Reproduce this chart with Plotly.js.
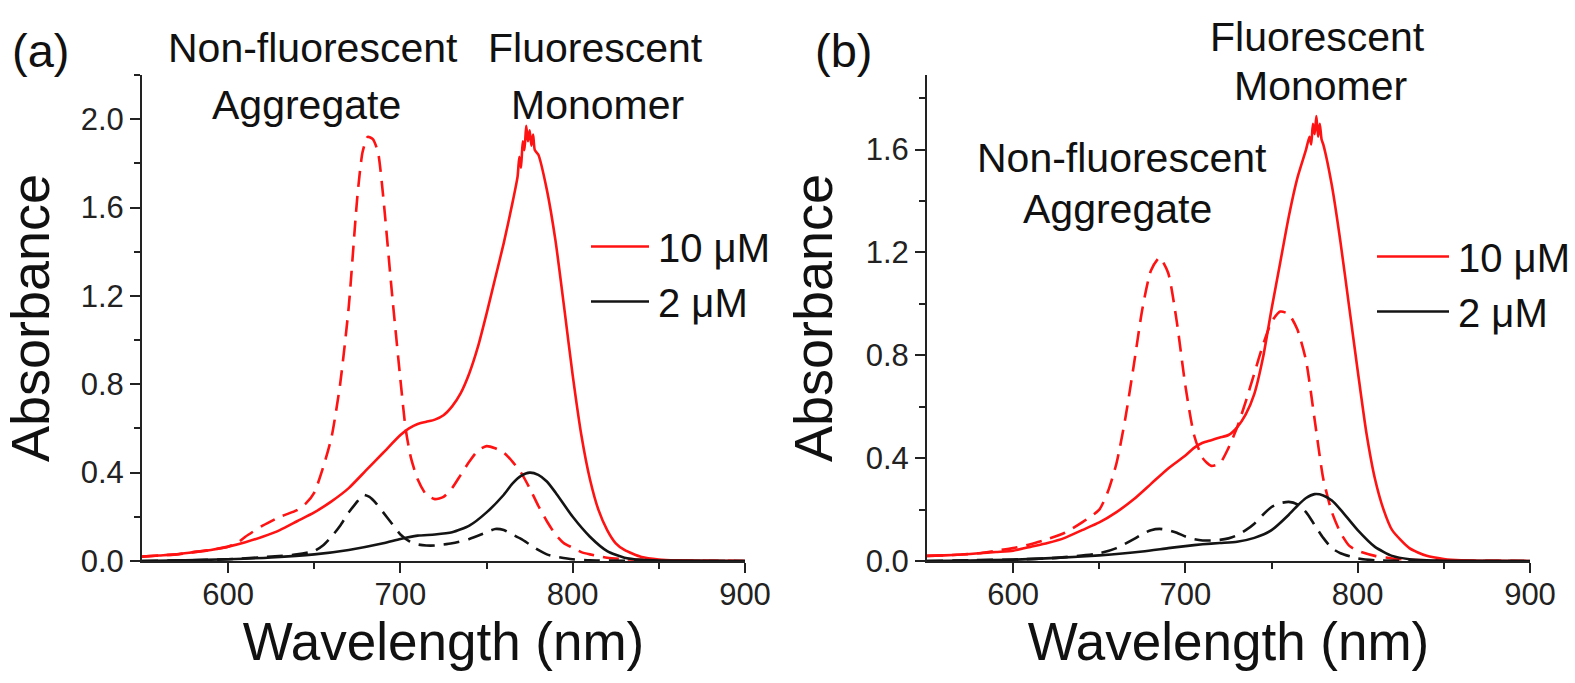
<!DOCTYPE html>
<html>
<head>
<meta charset="utf-8">
<script src="https://cdn.plot.ly/plotly-3.0.1.min.js"></script>
<style>html,body{margin:0;padding:0;background:#fff;}#chart{width:1575px;height:683px;}</style>
</head>
<body>
<div id="chart"></div>
<script>
// ---------- Panel (a) ----------
var aRedSolidX = [550,560,570,580,590,600,610,620,630,640,650,660,670,680,690,700,705,710,715,720,725,730,735,740,745,750,755,760,765,768,769,770,771,772,773,774,775,776,777,778,780,785,790,795,800,805,810,815,820,825,830,840,850,860,880,900];
var aRedSolidY = [0.02,0.025,0.03,0.04,0.05,0.065,0.085,0.11,0.14,0.18,0.22,0.27,0.33,0.41,0.49,0.57,0.6,0.62,0.63,0.64,0.66,0.70,0.76,0.85,0.97,1.12,1.28,1.44,1.62,1.74,1.83,1.78,1.9,1.86,1.97,1.9,1.95,1.88,1.93,1.86,1.84,1.68,1.45,1.15,0.84,0.57,0.37,0.23,0.14,0.08,0.05,0.018,0.007,0.003,0.001,0];

var aRedDashX = [550,560,570,580,590,600,605,610,620,630,640,645,650,655,660,665,670,675,678,681,684,687,690,695,700,703,706,710,715,720,725,730,735,740,745,750,755,760,765,770,775,780,785,790,795,800,805,810,820,830,850,900];
var aRedDashY = [0.02,0.025,0.03,0.04,0.05,0.065,0.08,0.11,0.16,0.2,0.23,0.26,0.31,0.42,0.56,0.8,1.15,1.65,1.85,1.92,1.91,1.85,1.65,1.22,0.82,0.6,0.47,0.37,0.3,0.28,0.29,0.33,0.39,0.45,0.5,0.52,0.51,0.49,0.45,0.4,0.33,0.25,0.18,0.12,0.08,0.06,0.04,0.03,0.015,0.008,0.003,0];

var aBlackSolidX = [550,575,600,625,650,670,690,700,710,720,730,740,750,760,765,770,775,780,785,790,800,810,820,830,840,850,900];
var aBlackSolidY = [0,0.003,0.008,0.016,0.03,0.05,0.08,0.1,0.115,0.12,0.13,0.16,0.22,0.3,0.35,0.385,0.4,0.39,0.36,0.31,0.2,0.11,0.045,0.015,0.005,0.002,0];

var aBlackDashX = [550,575,600,625,640,650,655,660,665,670,675,678,682,686,690,695,700,705,710,715,720,730,740,750,755,760,765,770,775,780,785,790,800,810,850,900];
var aBlackDashY = [0,0.003,0.008,0.02,0.03,0.045,0.07,0.11,0.16,0.22,0.27,0.3,0.29,0.26,0.22,0.17,0.12,0.09,0.075,0.07,0.07,0.08,0.1,0.13,0.145,0.14,0.12,0.1,0.075,0.05,0.03,0.02,0.008,0.003,0,0];

// ---------- Panel (b) ----------
var bRedSolidX = [550,560,570,580,590,600,610,620,630,640,650,660,670,680,690,700,705,710,715,720,725,730,735,740,745,750,755,760,765,770,772,773,774,775,776,777,778,779,780,785,790,795,800,805,810,815,820,830,840,850,860,880,900];
var bRedSolidY = [0.02,0.022,0.025,0.03,0.035,0.04,0.055,0.07,0.09,0.12,0.15,0.19,0.24,0.3,0.36,0.41,0.44,0.46,0.47,0.48,0.49,0.52,0.57,0.65,0.79,0.98,1.16,1.34,1.49,1.6,1.65,1.62,1.7,1.66,1.73,1.65,1.7,1.64,1.62,1.46,1.24,0.99,0.74,0.5,0.32,0.2,0.12,0.05,0.02,0.008,0.003,0.001,0];

var bRedDashX = [550,560,570,580,590,600,610,620,630,640,650,655,660,665,670,675,680,685,690,695,700,705,710,715,720,725,730,735,740,745,750,755,760,765,770,775,780,785,790,795,800,810,820,830,850,900];
var bRedDashY = [0.02,0.022,0.025,0.03,0.04,0.05,0.065,0.085,0.11,0.15,0.2,0.27,0.38,0.55,0.76,0.98,1.13,1.18,1.12,0.93,0.68,0.49,0.4,0.37,0.38,0.44,0.52,0.62,0.73,0.84,0.93,0.97,0.96,0.9,0.78,0.55,0.32,0.19,0.11,0.06,0.04,0.02,0.01,0.005,0.002,0];

var bBlackSolidX = [550,575,600,625,650,675,690,700,710,720,730,740,750,760,765,770,775,780,785,790,800,810,820,830,840,850,900];
var bBlackSolidY = [0,0.002,0.005,0.012,0.022,0.037,0.05,0.058,0.065,0.07,0.075,0.09,0.12,0.18,0.215,0.245,0.26,0.255,0.235,0.2,0.12,0.055,0.02,0.007,0.003,0.001,0];

var bBlackDashX = [550,575,600,625,650,660,670,675,680,685,690,695,700,705,710,715,720,725,730,735,740,745,750,755,760,765,770,775,780,785,790,800,810,850,900];
var bBlackDashY = [0,0.003,0.006,0.012,0.03,0.05,0.085,0.105,0.12,0.125,0.12,0.11,0.095,0.085,0.08,0.08,0.082,0.088,0.1,0.12,0.145,0.18,0.21,0.225,0.23,0.22,0.19,0.14,0.09,0.05,0.03,0.01,0.003,0,0];

// ---------- Labels ----------
var seriesNames = ['10 \u03BCM', '2 \u03BCM'];
var xTickVals = [600, 700, 800, 900];
var xMinorVals = [650, 750, 850];
var xTitle = 'Wavelength (nm)';
var yTitle = 'Absorbance';
var panelLabels = ['(a)', '(b)'];
var peakLabels = ['Non-fluorescent', 'Aggregate', 'Fluorescent', 'Monomer'];

var RED = '#ff1212', BLACK = '#141414', AXIS = '#222';
var FONT = 'Liberation Sans, Arial, sans-serif';
var DASH = '16px,9px';

function tr(x, y, color, dash, xa, ya, name, legend, show) {
  return {x: x, y: y, type: 'scatter', mode: 'lines', xaxis: xa, yaxis: ya,
    name: name || '', showlegend: !!show, legend: legend,
    line: {color: color, width: 2.6, dash: dash, shape: 'spline', smoothing: 0.6}, hoverinfo: 'skip'};
}

var data = [
  tr(aRedDashX, aRedDashY, RED, DASH, 'x', 'y', '', 'legend', false),
  tr(aBlackDashX, aBlackDashY, BLACK, DASH, 'x', 'y', '', 'legend', false),
  tr(aRedSolidX, aRedSolidY, RED, 'solid', 'x', 'y', seriesNames[0], 'legend', true),
  tr(aBlackSolidX, aBlackSolidY, BLACK, 'solid', 'x', 'y', seriesNames[1], 'legend', true),
  tr(bRedDashX, bRedDashY, RED, DASH, 'x2', 'y2', '', 'legend2', false),
  tr(bBlackDashX, bBlackDashY, BLACK, DASH, 'x2', 'y2', '', 'legend2', false),
  tr(bRedSolidX, bRedSolidY, RED, 'solid', 'x2', 'y2', seriesNames[0], 'legend2', true),
  tr(bBlackSolidX, bBlackSolidY, BLACK, 'solid', 'x2', 'y2', seriesNames[1], 'legend2', true)
];

function xaxis(domain, anchor) {
  return {domain: domain, anchor: anchor, range: [550, 900], showgrid: false, zeroline: false,
    showline: true, linecolor: AXIS, linewidth: 2, mirror: false,
    ticks: 'outside', ticklen: 10, tickwidth: 2, tickcolor: AXIS,
    tickmode: 'array', tickvals: xTickVals, ticklabelstandoff: -5,
    minor: {tickmode: 'array', tickvals: xMinorVals, ticks: 'outside', ticklen: 6, tickwidth: 2, tickcolor: AXIS},
    tickfont: {family: FONT, size: 31, color: '#222'},
    title: {text: xTitle, font: {family: FONT, size: 53, color: '#111'}, standoff: 2},
    automargin: false};
}
function yaxis(domain, anchor, maxv) {
  return {domain: domain, anchor: anchor, range: [0, maxv], showgrid: false, zeroline: false,
    showline: true, linecolor: AXIS, linewidth: 2,
    ticks: 'outside', ticklen: 10, tickwidth: 2, tickcolor: AXIS,
    dtick: 0.4, tick0: 0, tickformat: '.1f',
    minor: {dtick: 0.2, tick0: 0, ticks: 'outside', ticklen: 6, tickwidth: 2, tickcolor: AXIS},
    tickfont: {family: FONT, size: 31, color: '#222'},
    title: {text: yTitle, font: {family: FONT, size: 54, color: '#111'}, standoff: 16},
    automargin: false};
}

var yDom = [1 - 561/683, 1 - 75/683];
var ann = function (txt, px, py, size) {
  return {text: txt, xref: 'paper', yref: 'paper', x: px/1575, y: 1 - py/683,
    xanchor: 'center', yanchor: 'middle', showarrow: false, align: 'center',
    font: {family: FONT, size: size, color: '#111'}};
};
var legendBase = {xanchor: 'left', yanchor: 'top', bgcolor: 'rgba(0,0,0,0)', borderwidth: 0,
  font: {family: FONT, size: 40, color: '#111'}};

var layout = {
  width: 1575, height: 683,
  margin: {l: 0, r: 0, t: 0, b: 0},
  paper_bgcolor: '#fff', plot_bgcolor: '#fff',
  xaxis: xaxis([142/1575, 745/1575], 'y'),
  yaxis: yaxis(yDom, 'x', 2.2),
  xaxis2: xaxis([927/1575, 1530/1575], 'y2'),
  yaxis2: yaxis(yDom, 'x2', 1.89),
  legend: Object.assign({x: 586/1575, y: 1 - 214/683, itemwidth: 62}, legendBase),
  legend2: Object.assign({x: 1372/1575, y: 1 - 224/683, itemwidth: 76}, legendBase),
  annotations: [
    ann(panelLabels[0], 40, 50, 47),
    ann(peakLabels[0], 313, 48, 41),
    ann(peakLabels[1], 306, 105, 41),
    ann(peakLabels[2], 595, 48, 41),
    ann(peakLabels[3], 597, 105, 41),
    ann(panelLabels[1], 843, 50, 47),
    ann(peakLabels[2], 1317, 37, 41),
    ann(peakLabels[3], 1320, 86, 41),
    ann(peakLabels[0], 1122, 158, 41),
    ann(peakLabels[1], 1117, 209, 41)
  ]
};

Plotly.newPlot('chart', data, layout, {displayModeBar: false, staticPlot: true}).then(function (gd) {
  // lengthen the legend line samples to match the long strokes of the original
  var paths = gd.querySelectorAll('.legendlines path');
  paths.forEach(function (p) {
    var inB = p.closest('.legend2') !== null;
    p.setAttribute('d', 'M5,0h' + (inB ? 72 : 58));
  });
});
</script>
</body>
</html>
